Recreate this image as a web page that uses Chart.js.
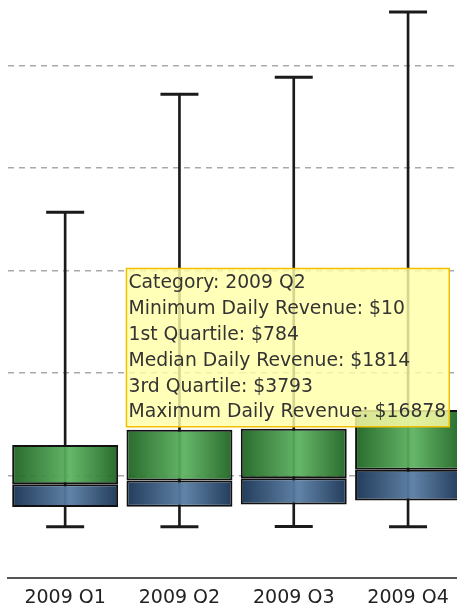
<!DOCTYPE html>
<html>
<head>
<meta charset="utf-8">
<script src="https://cdn.jsdelivr.net/npm/chart.js@4.4.1/dist/chart.umd.min.js"></script>
<style>
  html, body { margin:0; padding:0; background:#fff; overflow:hidden; width:457px; height:603px; }
  #wrap { position:absolute; left:0; top:-40px; width:480px; height:660px; }
</style>
</head>
<body>
<div id="wrap"><canvas id="boxChart"></canvas></div>
<script>
// dati trimestrali (ricavo giornaliero)
const categories = ['2009 Q1', '2009 Q2', '2009 Q3', '2009 Q4'];
const minRevenue = [8, 10, 12, 9];
const q1Revenue = [780, 784, 875, 1030];
const medianRevenue = [1665, 1814, 1900, 2230];
const q3Revenue = [3190, 3793, 3830, 4560];
const maxRevenue = [12270, 16878, 17540, 20080];

const FONT = 'DejaVu Sans';
const BAR_PCT = 0.927;

// gradiente "cilindro": bordi scuri, centro chiaro
function cylinder(dark, light, fallback){
    return ctx => {
        const chart = ctx.chart;
        const xs = chart.scales.x;
        if(!xs || !chart.chartArea) return fallback;
        const cx = xs.getPixelForValue(ctx.dataIndex);
        const half = xs.width / categories.length * BAR_PCT / 2;
        const g = chart.ctx.createLinearGradient(cx - half, 0, cx + half, 0);
        g.addColorStop(0, dark);
        g.addColorStop(0.55, light);
        g.addColorStop(1, dark);
        return g;
    };
}

// tooltip fisso sul box del Q2
Chart.Tooltip.positioners.fixedBox = function(items){
    if(!items.length) return false;
    const el = items[0].element;
    const ys = this.chart.scales.y;
    return { x: el.x - el.width / 2, y: ys.getPixelForValue(10000) - 2 };
};

const boxChart = new Chart(document.getElementById('boxChart'), {
    type: 'bar',
    data: {
        labels: categories,
        datasets: [
            {
                label: 'upper',
                data: categories.map((c, i) => [medianRevenue[i], q3Revenue[i]]),
                backgroundColor: cylinder('rgba(28,98,32,0.94)', 'rgba(92,178,96,0.94)', '#2f8a35'),
                borderColor: '#111',
                borderWidth: 2,
                borderSkipped: false,
                grouped: false,
                barPercentage: BAR_PCT,
                categoryPercentage: 1,
                order: 1
            },
            {
                label: 'lower',
                data: categories.map((c, i) => [q1Revenue[i], medianRevenue[i]]),
                backgroundColor: cylinder('rgba(26,52,84,0.96)', 'rgba(90,126,164,0.96)', '#3b5d84'),
                borderColor: '#111',
                borderWidth: 2,
                borderSkipped: false,
                grouped: false,
                barPercentage: BAR_PCT,
                categoryPercentage: 1,
                order: 2
            },
            {
                label: 'whisker',
                data: categories.map((c, i) => [minRevenue[i], maxRevenue[i]]),
                backgroundColor: '#1a1a1a',
                borderWidth: 0,
                grouped: false,
                barThickness: 2,
                order: 5
            },
            {
                type: 'line',
                label: 'maxCap',
                data: maxRevenue,
                showLine: false,
                pointStyle: 'line',
                pointRadius: 19,
                borderColor: '#1a1a1a',
                borderWidth: 3,
                clip: false,
                order: 4
            },
            {
                type: 'line',
                label: 'minCap',
                data: minRevenue,
                showLine: false,
                pointStyle: 'line',
                pointRadius: 19,
                borderColor: '#1a1a1a',
                borderWidth: 3,
                clip: false,
                order: 4
            }
        ]
    },
    options: {
        responsive: true,
        maintainAspectRatio: false,
        animation: false,
        events: [],
        layout: { autoPadding: false, padding: { top: 2.8, left: 8, right: 14.8, bottom: 3 } },
        scales: {
            x: {
                offset: true,
                grid: { display: false, drawTicks: false },
                border: { display: true, color: '#555', width: 2 },
                ticks: { color: '#222', padding: 8, font: { family: FONT, size: 19 } }
            },
            y: {
                min: -2000,
                max: 22000,
                grid: { color: '#a9a9a9', lineWidth: 1.5, drawTicks: false },
                border: { display: false, dash: [6, 5] },
                ticks: { display: false, stepSize: 4000 }
            }
        },
        plugins: {
            legend: { display: false },
            tooltip: {
                enabled: true,
                position: 'fixedBox',
                xAlign: 'left',
                yAlign: 'top',
                caretSize: 0,
                caretPadding: 0,
                cornerRadius: 0,
                displayColors: false,
                backgroundColor: 'rgba(255,255,168,0.82)',
                borderColor: '#f0c000',
                borderWidth: 1.5,
                bodyColor: '#333',
                bodyFont: { family: FONT, size: 18.8 },
                bodySpacing: 3.4,
                padding: { top: 3, bottom: 3, left: 2, right: 3 },
                callbacks: {
                    title: () => '',
                    label: item => {
                        const i = item.dataIndex;
                        return [
                            'Category: ' + categories[i],
                            'Minimum Daily Revenue: $' + minRevenue[i],
                            '1st Quartile: $' + q1Revenue[i],
                            'Median Daily Revenue: $' + medianRevenue[i],
                            '3rd Quartile: $' + q3Revenue[i],
                            'Maximum Daily Revenue: $' + maxRevenue[i]
                        ];
                    }
                }
            }
        }
    }
});

// mostra il tooltip del Q2
boxChart.tooltip.setActiveElements([{ datasetIndex: 0, index: 1 }], { x: 0, y: 0 });
boxChart.update();
</script>
</body>
</html>
